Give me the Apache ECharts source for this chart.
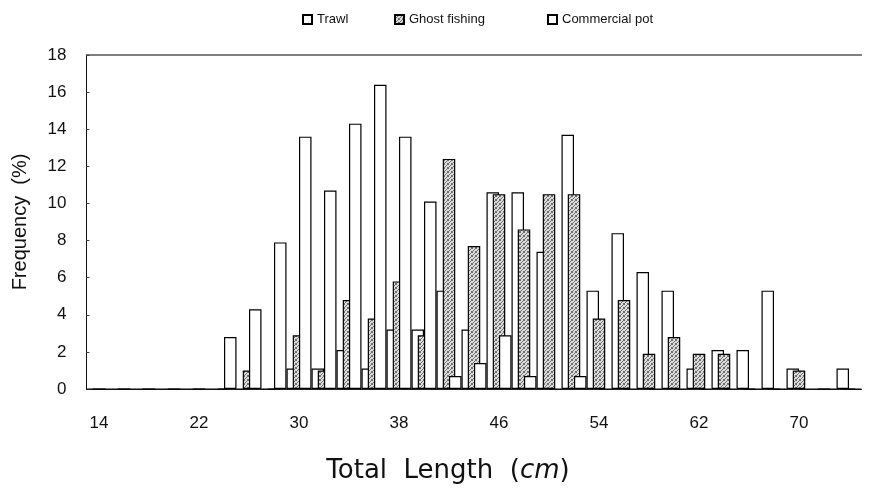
<!DOCTYPE html>
<html>
<head>
<meta charset="utf-8">
<script src="https://cdn.jsdelivr.net/npm/echarts@6/dist/echarts.min.js"></script>
<style>html,body{margin:0;background:#fff}#chart{width:877px;height:491px}</style>
</head>
<body>
<div id="chart"></div>
<script>
// total length classes (cm)
var lengths = ['14','16','18','20','22','24','26','28','30','32','34','36','38','40','42','44',
               '46','48','50','52','54','56','58','60','62','64','66','68','70','72','74'];
var trawl = [0,0,0,0,0,0,0,0,1.1,1.1,2.1,1.1,3.2,3.2,5.3,3.2,10.6,10.6,7.4,13.7,5.3,8.4,6.3,5.3,1.1,2.1,2.1,5.3,1.1,0,1.1];
var ghost = [0,0,0,0,0,0,1.0,0,2.9,1.0,4.8,3.8,5.8,2.9,12.4,7.7,10.5,8.6,10.5,10.5,3.8,4.8,1.9,2.8,1.9,1.9,0,0,1.0,0,0];
var pot   = [0,0,0,0,0,2.8,4.3,7.9,13.6,10.7,14.3,16.4,13.6,10.1,0.7,1.4,2.9,0.7,0,0.7,0,0,0,0,0,0,0,0,0,0,0];
var seriesNames = ['Trawl', 'Ghost fishing', 'Commercial pot'];

// stippled grey fill for ghost fishing
var pc = document.createElement('canvas');
pc.width = 4; pc.height = 4;
var ctx = pc.getContext('2d');
ctx.fillStyle = '#dcdcdc';
ctx.fillRect(0, 0, 4, 4);
ctx.fillStyle = '#6e6e6e';
[[0,0],[2,1],[1,2],[3,3],[3,0],[0,3]].forEach(function (p) { ctx.fillRect(p[0], p[1], 1, 1); });
var stipple = { image: pc, repeat: 'repeat' };

var font = "'Liberation Sans', Arial, sans-serif";
var myChart = echarts.init(document.getElementById('chart'));

function barSeries(name, data, color) {
    return {
        name: name,
        type: 'bar',
        data: data,
        barWidth: 12.5,
        barGap: '-50%',
        itemStyle: { color: color, borderColor: '#000', borderWidth: 1.2 },
        animation: false
    };
}

function legendAt(name, left) {
    return {
        data: [name],
        left: left,
        top: 8,
        icon: 'rect',
        itemWidth: 9,
        itemHeight: 9,
        itemGap: 4,
        textStyle: { fontFamily: font, fontSize: 13, color: '#111' }
    };
}

var option = {
    backgroundColor: '#fff',
    animation: false,
    legend: [legendAt(seriesNames[0], 297), legendAt(seriesNames[1], 389), legendAt(seriesNames[2], 542)],
    grid: { left: 86.5, right: 15.5, top: 55, bottom: 102 },
    xAxis: [{
        type: 'category',
        data: lengths,
        axisLine: { lineStyle: { color: '#222', width: 1 } },
        axisTick: { show: false },
        axisLabel: { interval: 3, margin: 26, fontFamily: font, fontSize: 17, color: '#111' },
        name: 'Total  Length  ({i|cm})',
        nameLocation: 'middle',
        nameGap: 69,
        nameTextStyle: {
            fontFamily: "'DejaVu Sans', sans-serif", fontSize: 26, color: '#111',
            padding: [0, 52, 0, 0],
            rich: { i: { fontFamily: "'DejaVu Sans', sans-serif", fontSize: 26, fontStyle: 'italic', color: '#111' } }
        }
    }, {
        type: 'category',
        data: lengths,
        position: 'top',
        axisLine: { lineStyle: { color: '#555', width: 1.5 } },
        axisTick: { show: false },
        axisLabel: { show: false }
    }],
    yAxis: {
        type: 'value',
        min: 0,
        max: 18,
        interval: 2,
        splitLine: { show: false },
        axisLine: { show: true, lineStyle: { color: '#111', width: 1 } },
        axisTick: { show: true, inside: true, length: 3, lineStyle: { color: '#444' } },
        axisLabel: { margin: 20, fontFamily: font, fontSize: 17, color: '#111' },
        name: 'Frequency  (%)',
        nameLocation: 'middle',
        nameGap: 56,
        nameTextStyle: { fontFamily: font, fontSize: 20, color: '#111' }
    },
    series: [
        barSeries(seriesNames[0], trawl, '#fff'),
        barSeries(seriesNames[1], ghost, stipple),
        barSeries(seriesNames[2], pot, '#fff')
    ]
};

myChart.setOption(option);
</script>
</body>
</html>
